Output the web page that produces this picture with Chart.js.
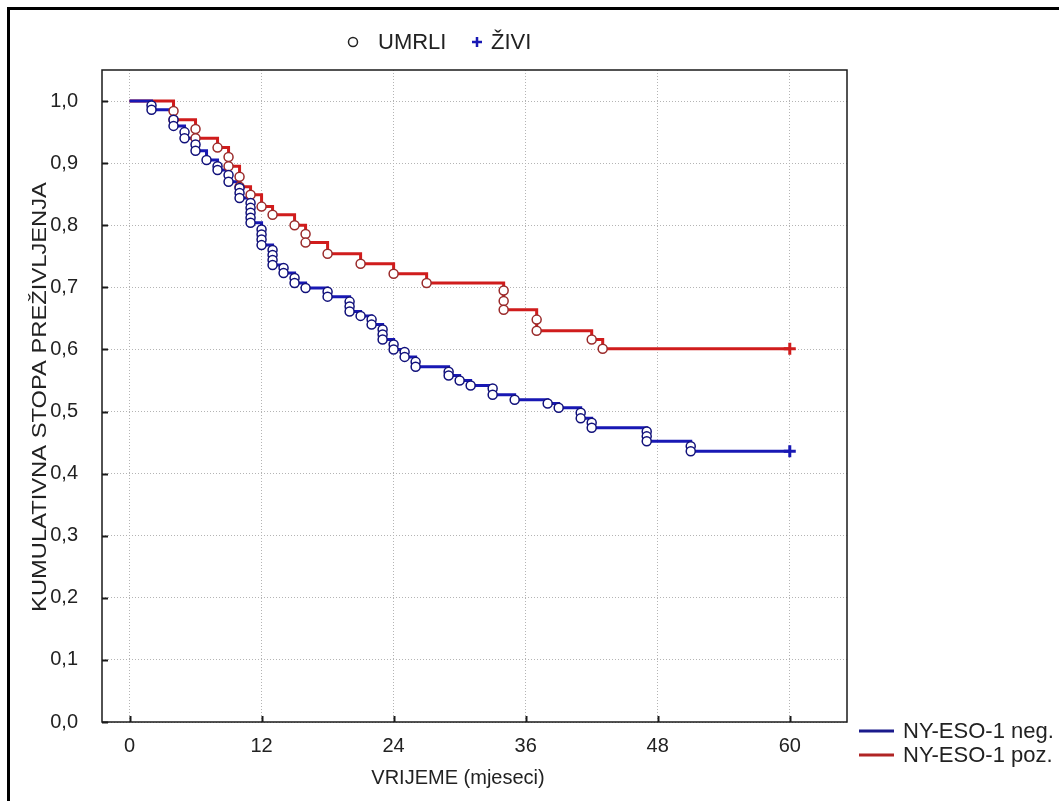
<!DOCTYPE html>
<html>
<head>
<meta charset="utf-8">
<title>Kaplan-Meier NY-ESO-1</title>
<script src="https://cdn.jsdelivr.net/npm/chart.js@4.4.0/dist/chart.umd.min.js"></script>
<style>
    html, body { margin: 0; padding: 0; background: #fff; }
    #wrap { position: relative; width: 1059px; height: 801px; }
    #rahmen { position: absolute; left: 7px; top: 7px; right: 0; bottom: 0;
              border-left: 3px solid #000; border-top: 3px solid #000; pointer-events: none; }
</style>
</head>
<body>
<div id="wrap">
    <canvas id="kmChart" width="1059" height="801"></canvas>
    <div id="rahmen"></div>
</div>
<script>
// Vrijeme (mjeseci) i kumulativna stopa preživljenja za svaki smrtni ishod (kružići)
var negDeathTimes = [2, 2, 4, 4, 5, 5, 6, 6, 7, 8, 8, 9, 9, 10, 10, 10, 11, 11, 11, 11, 11,
    12, 12, 12, 12, 13, 13, 13, 13, 14, 14, 15, 15, 16, 18, 18, 20, 20, 20, 21, 22, 22,
    23, 23, 23, 24, 24, 25, 25, 26, 26, 29, 29, 30, 31, 33, 33, 35, 38, 39, 41, 41, 42, 42,
    47, 47, 47, 51, 51];
var negDeathSurv = [0.993, 0.986, 0.970, 0.960, 0.950, 0.940, 0.930, 0.920, 0.905, 0.895, 0.889,
    0.881, 0.870, 0.860, 0.852, 0.844, 0.836, 0.828, 0.820, 0.812, 0.804,
    0.793, 0.785, 0.777, 0.768, 0.760, 0.752, 0.744, 0.736, 0.731, 0.723, 0.715, 0.707,
    0.699, 0.693, 0.685, 0.677, 0.669, 0.661, 0.654, 0.648, 0.640, 0.632, 0.624, 0.616,
    0.608, 0.600, 0.596, 0.588, 0.580, 0.572, 0.564, 0.558, 0.550, 0.542, 0.537, 0.527,
    0.519, 0.513, 0.506, 0.498, 0.489, 0.482, 0.474, 0.468, 0.460, 0.452, 0.444, 0.436];

var posDeathTimes = [4, 4, 6, 6, 8, 9, 9, 10, 10, 11, 12, 13, 15, 16, 16, 18, 21, 24, 27,
    34, 34, 34, 37, 37, 42, 43];
var posDeathSurv = [0.984, 0.970, 0.955, 0.940, 0.925, 0.910, 0.895, 0.878, 0.862, 0.849,
    0.830, 0.817, 0.800, 0.786, 0.772, 0.754, 0.738, 0.722, 0.707,
    0.695, 0.678, 0.664, 0.648, 0.630, 0.616, 0.601];

// Cenzurirani (živi) na kraju praćenja
var negCensorTimes = [60];
var negCensorSurv = [0.436];
var posCensorTimes = [60];
var posCensorSurv = [0.601];

// Oznake osi
var xTicks = [0, 12, 24, 36, 48, 60];
var yTicks = [0, 0.1, 0.2, 0.3, 0.4, 0.5, 0.6, 0.7, 0.8, 0.9, 1.0];
var seriesNames = ['NY-ESO-1 neg.', 'NY-ESO-1 poz.'];

var FONT = "'Liberation Sans', Arial, sans-serif";

// Stepenasta krivulja iz točaka smrti + cenzura
function buildSteps(times, surv, cTimes, cSurv) {
    var pts = [{x: 0, y: 1}];
    for (var i = 0; i < times.length; i++) {
        var last = pts[pts.length - 1];
        if (last.x === times[i]) {
            last.y = Math.min(last.y, surv[i]);
        } else {
            pts.push({x: times[i], y: surv[i]});
        }
    }
    for (var j = 0; j < cTimes.length; j++) {
        pts.push({x: cTimes[j], y: cSurv[j]});
    }
    return pts;
}

function toPoints(times, surv) {
    return times.map(function(t, i) { return {x: t, y: surv[i]}; });
}

var BLUE = '#1818b4';
var RED = '#d01c1c';

// Dodatno crtanje: okvir, unutarnje crtice, naslovi osi, legende
var extras = {
    id: 'extras',
    afterDraw: function(chart) {
        var ctx = chart.ctx;
        var a = chart.chartArea;
        var xs = chart.scales.x, ys = chart.scales.y;
        ctx.save();

        // okvir grafa
        ctx.strokeStyle = '#1a1a1a';
        ctx.lineWidth = 1.5;
        ctx.strokeRect(a.left, a.top, a.right - a.left, a.bottom - a.top);

        // crtice prema unutra
        ctx.lineWidth = 2;
        ctx.beginPath();
        yTicks.forEach(function(v) {
            var py = Math.round(ys.getPixelForValue(v)) + 0.5;
            ctx.moveTo(a.left, py);
            ctx.lineTo(a.left + 6, py);
        });
        xTicks.forEach(function(v) {
            var px = Math.round(xs.getPixelForValue(v)) + 0.5;
            ctx.moveTo(px, a.bottom);
            ctx.lineTo(px, a.bottom - 6);
        });
        ctx.stroke();

        // naslovi osi
        ctx.fillStyle = '#222';
        ctx.font = '20px ' + FONT;
        ctx.textAlign = 'center';
        ctx.textBaseline = 'middle';
        ctx.fillText('VRIJEME (mjeseci)', 458, 778);
        ctx.save();
        ctx.translate(40, 397);
        ctx.rotate(-Math.PI / 2);
        ctx.scale(1.13, 1);
        ctx.font = '21px ' + FONT;
        ctx.fillText('KUMULATIVNA STOPA PREŽIVLJENJA', 0, 0);
        ctx.restore();

        // gornja legenda
        ctx.font = '22px ' + FONT;
        ctx.textAlign = 'left';
        ctx.beginPath();
        ctx.arc(353, 42, 4.5, 0, Math.PI * 2);
        ctx.fillStyle = '#fff';
        ctx.fill();
        ctx.strokeStyle = '#222';
        ctx.lineWidth = 1.5;
        ctx.stroke();
        ctx.fillStyle = '#222';
        ctx.fillText('UMRLI', 378, 43);
        ctx.strokeStyle = BLUE;
        ctx.lineWidth = 2.5;
        ctx.beginPath();
        ctx.moveTo(472, 42); ctx.lineTo(482, 42);
        ctx.moveTo(477, 37); ctx.lineTo(477, 47);
        ctx.stroke();
        ctx.fillText('ŽIVI', 491, 43);

        // donja desna legenda
        var cols = ['#1a1a8c', '#b02424'];
        seriesNames.forEach(function(name, i) {
            var yy = 731 + i * 24;
            ctx.strokeStyle = cols[i];
            ctx.lineWidth = 3;
            ctx.beginPath();
            ctx.moveTo(859, yy);
            ctx.lineTo(894, yy);
            ctx.stroke();
            ctx.fillStyle = '#222';
            ctx.fillText(name, 903, yy + 1);
        });

        ctx.restore();
    }
};

var ctx = document.getElementById('kmChart').getContext('2d');
var chart = new Chart(ctx, {
    type: 'scatter',
    data: {
        datasets: [
            {   // kružići - neg
                data: toPoints(negDeathTimes, negDeathSurv),
                pointStyle: 'circle', pointRadius: 4.5,
                pointBackgroundColor: '#fff', pointBorderColor: '#10107a', pointBorderWidth: 1.5,
                showLine: false, order: 0
            },
            {   // kružići - poz
                data: toPoints(posDeathTimes, posDeathSurv),
                pointStyle: 'circle', pointRadius: 4.5,
                pointBackgroundColor: '#fff', pointBorderColor: '#9a2a2a', pointBorderWidth: 1.5,
                showLine: false, order: 0
            },
            {   // cenzurirani
                data: toPoints(negCensorTimes, negCensorSurv),
                pointStyle: 'cross', pointRadius: 6,
                pointBorderColor: BLUE, pointBorderWidth: 3,
                showLine: false, order: 0
            },
            {
                data: toPoints(posCensorTimes, posCensorSurv),
                pointStyle: 'cross', pointRadius: 6,
                pointBorderColor: RED, pointBorderWidth: 3,
                showLine: false, order: 0
            },
            {   // krivulje
                label: seriesNames[0],
                data: buildSteps(negDeathTimes, negDeathSurv, negCensorTimes, negCensorSurv),
                showLine: true, stepped: 'before', borderColor: BLUE, borderWidth: 3,
                pointRadius: 0, order: 1
            },
            {
                label: seriesNames[1],
                data: buildSteps(posDeathTimes, posDeathSurv, posCensorTimes, posCensorSurv),
                showLine: true, stepped: 'before', borderColor: RED, borderWidth: 3,
                pointRadius: 0, order: 1
            }
        ]
    },
    options: {
        responsive: false,
        animation: false,
        layout: { padding: { left: 0, top: 70, right: 212, bottom: 0 } },
        plugins: {
            legend: { display: false },
            tooltip: { enabled: false }
        },
        scales: {
            x: {
                type: 'linear',
                min: -2.5,
                max: 65.2,
                afterBuildTicks: function(s) { s.ticks = xTicks.map(function(v) { return {value: v}; }); },
                afterFit: function(s) { s.height = 79; },
                grid: { color: '#b4b4b4', lineWidth: 1, drawTicks: false },
                border: { display: false, dash: [1, 2] },
                ticks: { color: '#222', font: { family: FONT, size: 20 }, padding: 12, maxRotation: 0 }
            },
            y: {
                type: 'linear',
                min: 0,
                max: 1.05,
                afterBuildTicks: function(s) { s.ticks = yTicks.map(function(v) { return {value: v}; }); },
                afterFit: function(s) { s.width = 102; },
                grid: { color: '#b4b4b4', lineWidth: 1, drawTicks: false },
                border: { display: false, dash: [1, 2] },
                ticks: {
                    color: '#222', font: { family: FONT, size: 20 }, padding: 24,
                    callback: function(v) { return v.toFixed(1).replace('.', ','); }
                }
            }
        }
    },
    plugins: [extras]
});
</script>
</body>
</html>
